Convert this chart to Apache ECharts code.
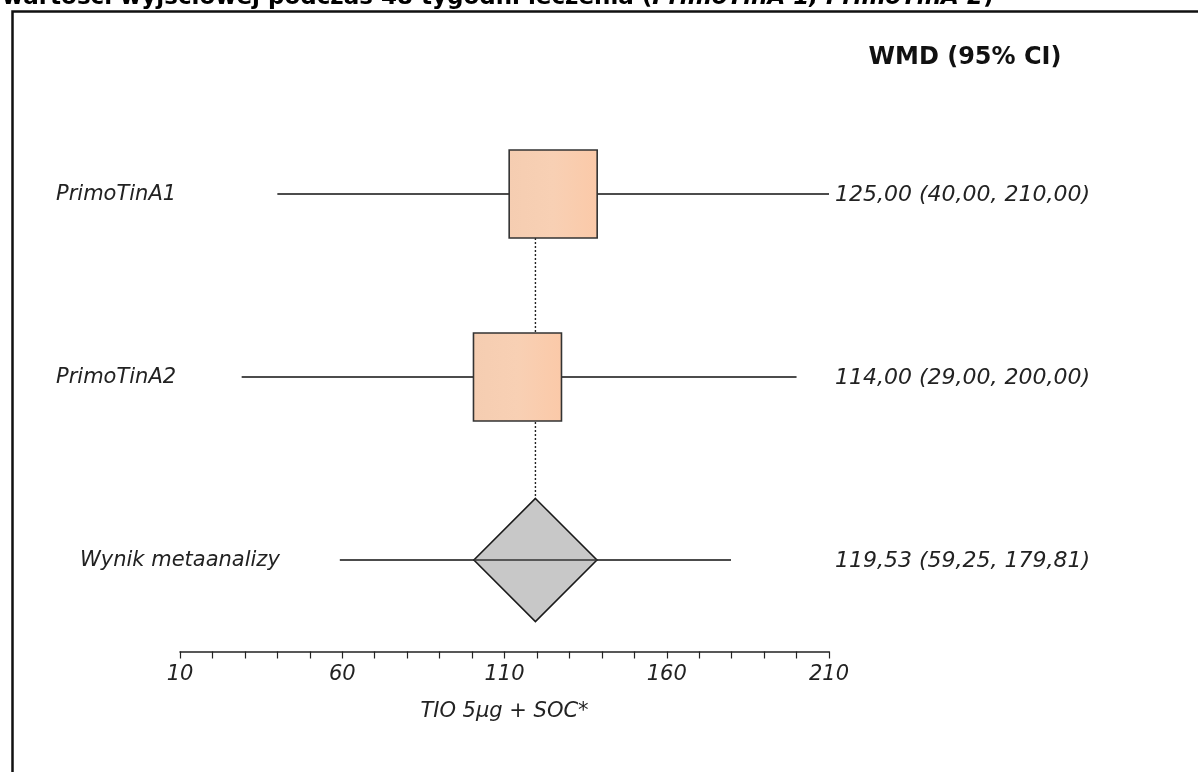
<!DOCTYPE html>
<html>
<head>
<meta charset="utf-8">
<script src="https://cdn.jsdelivr.net/npm/echarts@6/dist/echarts.min.js"></script>
<style>
html,body{margin:0;padding:0;background:#fff;}
#chart{width:1198px;height:772px;}
</style>
</head>
<body>
<div id="chart"></div>
<script>
const studies = ['PrimoTinA1', 'PrimoTinA2', 'Wynik metaanalizy'];
const estimates = [125.00, 114.00, 119.53];
const lowerCI = [40.00, 29.00, 59.25];
const upperCI = [210.00, 200.00, 179.81];
const tickLabels = [10, 60, 110, 160, 210];
const axisTitle = 'TIO 5µg + SOC*';
const columnHeader = 'WMD (95% CI)';

const FONT = '"DejaVu Sans", Verdana, sans-serif';
const fmt = v => v.toFixed(2).replace('.', ',');
const n = studies.length;
const rowData = studies.map((s, i) => [estimates[i], lowerCI[i], upperCI[i], n - i]);
const pooled = estimates[n - 1];

const chart = echarts.init(document.getElementById('chart'));
chart.setOption({
  animation: false,
  backgroundColor: '#fff',
  grid: { left: 180, right: 369, top: 102.5, bottom: 120.5, containLabel: false },
  xAxis: {
    type: 'value', min: tickLabels[0], max: tickLabels[tickLabels.length - 1], interval: 10,
    position: 'bottom',
    splitLine: { show: false },
    axisLine: { show: true, lineStyle: { color: '#222', width: 1.5 } },
    axisTick: { show: true, length: 7, inside: false, lineStyle: { color: '#222', width: 1.2 } },
    axisLabel: {
      show: true, margin: 13, color: '#222', fontFamily: FONT, fontStyle: 'italic', fontSize: 21,
      formatter: v => tickLabels.includes(v) ? String(v) : ''
    },
    name: axisTitle, nameLocation: 'middle', nameGap: 50,
    nameTextStyle: { color: '#222', fontFamily: FONT, fontStyle: 'italic', fontSize: 21 }
  },
  yAxis: { type: 'value', min: 0.5, max: n + 0.5, show: false },
  graphic: [
    { type: 'rect', left: 10, top: 9, z: 0,
      shape: { x: 0, y: 0, width: 1400, height: 1000 },
      style: { fill: 'none', stroke: '#111', lineWidth: 2.5 } },
    { type: 'text', x: 2, y: 10, z: 10,
      style: {
        text: '{b|wartości wyjściowej podczas 48 tygodni leczenia (}{bi|PrimoTinA 1, PrimoTinA 2}{b|)}',
        verticalAlign: 'bottom',
        rich: {
          b: { fontFamily: FONT, fontWeight: 'bold', fontSize: 23, fill: '#000' },
          bi: { fontFamily: FONT, fontWeight: 'bold', fontStyle: 'italic', fontSize: 23, fill: '#000' }
        }
      } },
    { type: 'text', x: 965, y: 58, z: 10,
      style: { text: columnHeader, align: 'center', verticalAlign: 'middle',
        fontFamily: FONT, fontWeight: 'bold', fontSize: 24, fill: '#111' } }
  ],
  series: [
    {
      type: 'line', z: 1, silent: true, symbol: 'none',
      data: [[pooled, n], [pooled, 1]],
      lineStyle: { color: '#222', width: 1.4, type: [2, 2] }
    },
    {
      type: 'custom', z: 2, clip: false, silent: true,
      data: rowData,
      renderItem: function (params, api) {
        const i = params.dataIndex;
        const est = api.value(0), lo = api.value(1), hi = api.value(2), yv = api.value(3);
        const p = api.coord([est, yv]);
        const pl = api.coord([lo, yv]);
        const ph = api.coord([hi, yv]);
        const last = i === n - 1;
        const children = [
          { type: 'line', shape: { x1: pl[0], y1: p[1], x2: ph[0], y2: p[1] },
            style: { stroke: '#111', lineWidth: 1.3 }, z2: 1 }
        ];
        if (!last) {
          const s = 88;
          children.push({ type: 'rect', z2: 2,
            shape: { x: p[0] - s / 2, y: p[1] - s / 2, width: s, height: s },
            style: {
              fill: new echarts.graphic.LinearGradient(0, 0, 1, 0, [
                { offset: 0, color: '#f5cdb1' }, { offset: 0.5, color: '#f8d0b4' }, { offset: 1, color: '#fbc9a8' }
              ]),
              stroke: '#333', lineWidth: 1.6 } });
        } else {
          const h = 61.5;
          children.push({ type: 'polygon', z2: 2,
            shape: { points: [[p[0], p[1] - h], [p[0] + h, p[1]], [p[0], p[1] + h], [p[0] - h, p[1]]] },
            style: { fill: '#c8c8c8', stroke: '#1a1a1a', lineWidth: 1.6 } });
          children.push({ type: 'line', z2: 3, shape: { x1: p[0] - h, y1: p[1], x2: p[0] + h, y2: p[1] },
            style: { stroke: '#333', lineWidth: 1.3 } });
        }
        children.push({ type: 'text', z2: 4,
          style: { text: studies[i], x: last ? 80 : 56, y: p[1] + 1, align: 'left', verticalAlign: 'middle',
            fontFamily: FONT, fontStyle: 'italic', fontSize: 21, fill: '#222' } });
        children.push({ type: 'text', z2: 4,
          style: { text: fmt(est) + ' (' + fmt(lo) + ', ' + fmt(hi) + ')', x: 1090, y: p[1] + 1,
            align: 'right', verticalAlign: 'middle',
            fontFamily: FONT, fontStyle: 'italic', fontSize: 22, fill: '#222' } });
        return { type: 'group', children };
      }
    }
  ]
});
</script>
</body>
</html>
